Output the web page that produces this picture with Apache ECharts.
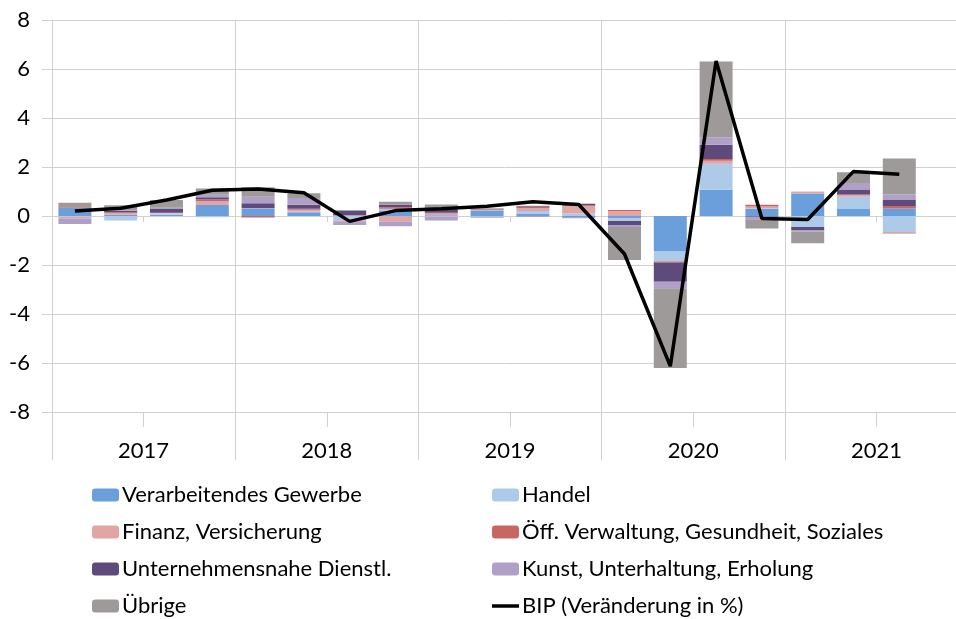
<!DOCTYPE html>
<html>
<head>
<meta charset="utf-8">
<script src="https://cdn.jsdelivr.net/npm/echarts@6/dist/echarts.min.js"></script>
<style>
    html, body { margin: 0; padding: 0; background: #fff; }
    #chart { width: 956px; height: 619px; }
</style>
</head>
<body>
<div id="chart"></div>
<script>
    // Quartale 2017 Q1 .. 2021 Q4 (letztes Quartal noch leer)
    var quarters = ['2017 Q1', '2017 Q2', '2017 Q3', '2017 Q4',
        '2018 Q1', '2018 Q2', '2018 Q3', '2018 Q4',
        '2019 Q1', '2019 Q2', '2019 Q3', '2019 Q4',
        '2020 Q1', '2020 Q2', '2020 Q3', '2020 Q4',
        '2021 Q1', '2021 Q2', '2021 Q3', '2021 Q4']
    var years = ['2017', '2018', '2019', '2020', '2021']
    var yTicks = [-8, 8, 2]   // min, max, interval

    var verarbeitend = [0.33, 0.05, 0.05, 0.45, 0.30, 0.15, 0.02, 0.20, 0.03, 0.22, 0.10, -0.04, -0.10, -1.43, 1.07, 0.30, 0.92, 0.29, 0.31, null]
    var handel = [-0.04, -0.18, 0.05, -0.05, 0.02, 0.04, -0.20, 0.10, -0.03, -0.03, 0.10, 0.10, -0.10, -0.41, 1.06, 0.02, -0.45, 0.50, -0.65, null]
    var finanz = [-0.07, 0.07, 0.02, 0.15, 0.00, 0.07, -0.04, -0.22, 0.07, 0.04, 0.13, 0.30, 0.20, -0.02, 0.13, 0.07, 0.06, 0.07, -0.07, null]
    var oeffentlich = [0.03, 0.03, 0.01, 0.07, -0.06, 0.04, 0.02, 0.06, 0.03, 0.02, 0.04, 0.04, 0.05, -0.04, 0.07, 0.07, 0.01, 0.02, 0.10, null]
    var unternehmen = [0.00, 0.06, 0.18, 0.10, 0.20, 0.16, 0.17, 0.10, 0.12, 0.02, 0.03, 0.06, -0.17, -0.78, 0.58, -0.03, -0.12, 0.20, 0.24, null]
    var kunst = [-0.22, 0.03, 0.03, 0.10, 0.27, 0.27, -0.13, -0.20, -0.15, -0.04, -0.04, -0.05, -0.08, -0.27, 0.30, -0.10, -0.06, 0.27, 0.23, null]
    var uebrige = [0.18, 0.20, 0.31, 0.25, 0.38, 0.20, 0.03, 0.12, 0.22, 0.02, 0.02, 0.00, -1.35, -3.25, 3.10, -0.38, -0.48, 0.44, 1.47, null]
    var bip = [0.2, 0.32, 0.65, 1.05, 1.1, 0.95, -0.22, 0.22, 0.3, 0.4, 0.58, 0.47, -1.55, -6.13, 6.33, -0.1, -0.14, 1.82, 1.7, null]

    var names = ['Verarbeitendes Gewerbe', 'Handel', 'Finanz, Versicherung',
        'Öff. Verwaltung, Gesundheit, Soziales', 'Unternehmensnahe Dienstl.',
        'Kunst, Unterhaltung, Erholung', 'Übrige', 'BIP (Veränderung in %)']
    var colors = ['#6a9fdb', '#adcae8', '#e2a5a5', '#c86664', '#5f4a7c', '#b09fc6', '#9e9a99', '#000000']
    var barData = [verarbeitend, handel, finanz, oeffentlich, unternehmen, kunst, uebrige]

    var font = 'Lato'
    var gridColor = '#d0d0d0'

    var series = barData.map(function (d, i) {
        return {
            name: names[i],
            type: 'bar',
            stack: 'beitrag',
            barWidth: 33,
            itemStyle: {color: colors[i]},
            data: d
        }
    })
    series.push({
        name: names[7],
        type: 'line',
        symbol: 'none',
        z: 10,
        lineStyle: {color: '#000', width: 3.5},
        itemStyle: {color: '#000'},
        data: bip
    })

    var legendText = {fontFamily: font, fontSize: 22, color: '#000', lineHeight: 22, padding: [0, 0, 0, -2]}
    var lineIcon = 'path://M0,0 L27,0 L27,3.5 L0,3.5 Z'

    var option = {
        animation: false,
        color: colors,
        grid: {left: 52, top: 20, width: 916, height: 392, outerBoundsMode: 'none'},
        legend: [
            {orient: 'vertical', left: 92, top: 484, padding: 0, itemWidth: 27, itemHeight: 13, itemGap: 15,
                textStyle: legendText, data: [names[0], names[2], names[4], names[6]]},
            {orient: 'vertical', left: 492, top: 484, padding: 0, itemWidth: 27, itemHeight: 13, itemGap: 15,
                textStyle: legendText,
                data: [names[1], names[3], names[5], {name: names[7], icon: lineIcon}]}
        ],
        xAxis: [
            {   // Achse bei 0 mit kleinen Strichen
                type: 'category', data: quarters, position: 'bottom',
                axisLine: {onZero: true, lineStyle: {color: gridColor}},
                axisTick: {show: true, length: 6, lineStyle: {color: gridColor}},
                axisLabel: {show: false},
                splitLine: {show: false}
            },
            {   // Quartalsstriche unten
                type: 'category', data: quarters, position: 'bottom',
                axisLine: {onZero: false, show: true, lineStyle: {color: gridColor}},
                axisTick: {show: true, length: 15, lineStyle: {color: gridColor}},
                axisLabel: {show: false},
                splitLine: {show: false}
            },
            {   // Jahre
                type: 'category', data: years, position: 'bottom',
                axisLine: {onZero: false, show: false},
                axisTick: {show: true, length: 48, lineStyle: {color: gridColor}},
                axisLabel: {fontFamily: font, fontSize: 22, color: '#000', margin: 28},
                splitLine: {show: true, lineStyle: {color: gridColor}}
            }
        ],
        yAxis: {
            type: 'value', min: yTicks[0], max: yTicks[1], interval: yTicks[2],
            axisLine: {show: true, lineStyle: {color: gridColor}},
            axisTick: {show: true, length: 10, lineStyle: {color: gridColor}},
            axisLabel: {fontFamily: font, fontSize: 22, color: '#000', margin: 22},
            splitLine: {lineStyle: {color: gridColor}}
        },
        series: series
    }

    var chart = echarts.init(document.getElementById('chart'))
    chart.setOption(option)
</script>
</body>
</html>
